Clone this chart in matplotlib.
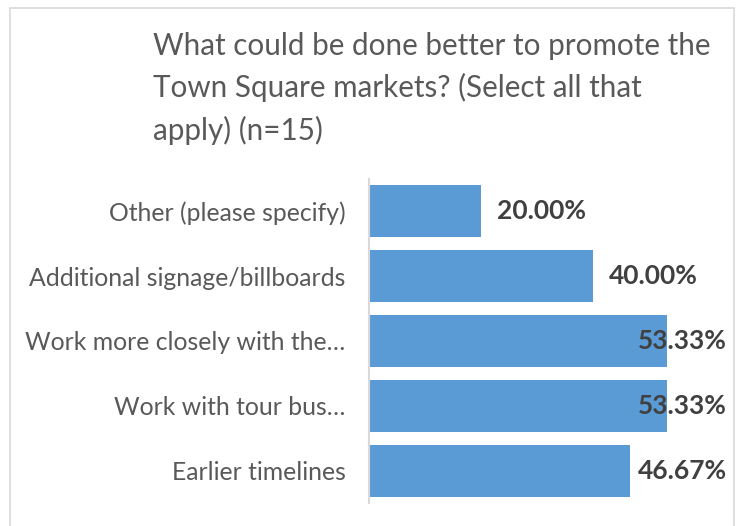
import matplotlib.pyplot as plt
from matplotlib.patches import Rectangle

# survey responses, % of respondents (n=15)
categories = [
    "Other (please specify)",
    "Additional signage/billboards",
    "Work more closely with the\u2026",
    "Work with tour bus\u2026",
    "Earlier timelines",
]
values = [20.00, 40.00, 53.33, 53.33, 46.67]
title = "What could be done better to promote the\nTown Square markets? (Select all that\napply) (n=15)"

plt.rcParams["font.family"] = ["Lato", "DejaVu Sans"]

W, H = 737, 526
fig = plt.figure(figsize=(W / 100, H / 100), dpi=100)

# chart frame
fig.patches.append(Rectangle((10 / W, -0.05), 724 / W, 1.05 - 8 / H,
                             transform=fig.transFigure, fill=False,
                             edgecolor="#D9D9D9", linewidth=1.2))

ax = fig.add_axes([369 / W, 1 - 503 / H, 358 / W, 324 / H])
y = list(range(len(categories)))
ax.barh(y, values, height=0.8, color="#5B9BD5")
ax.set_xlim(0, 64)
ax.set_ylim(-0.5, len(categories) - 0.5)
ax.invert_yaxis()

ax.set_yticks(y)
ax.set_yticklabels(categories, fontsize=17.8, color="#595959")
ax.tick_params(axis="y", length=0, pad=17)
ax.set_xticks([])
for s in ["top", "right", "bottom"]:
    ax.spines[s].set_visible(False)
ax.spines["left"].set_color("#D9D9D9")
ax.spines["left"].set_linewidth(1.5)

# value labels; pull back inside the plot area if they run past the edge
fig.canvas.draw()
r = fig.canvas.get_renderer()
xmax_px = ax.transData.transform((64, 0))[0]
for yi, v in zip(y, values):
    t = ax.text(v + 2.9, yi, f"{v:.2f}%", va="center", ha="left",
                fontsize=19, fontweight="bold", color="#404040")
    bb = t.get_window_extent(r)
    if bb.x1 > xmax_px:
        t.set_x(64)
        t.set_ha("right")

fig.text(153 / W, 1 - 32 / H, title, ha="left", va="top", fontsize=21.3,
         color="#595959", linespacing=1.55)

fig.savefig("out.png", dpi=100)
